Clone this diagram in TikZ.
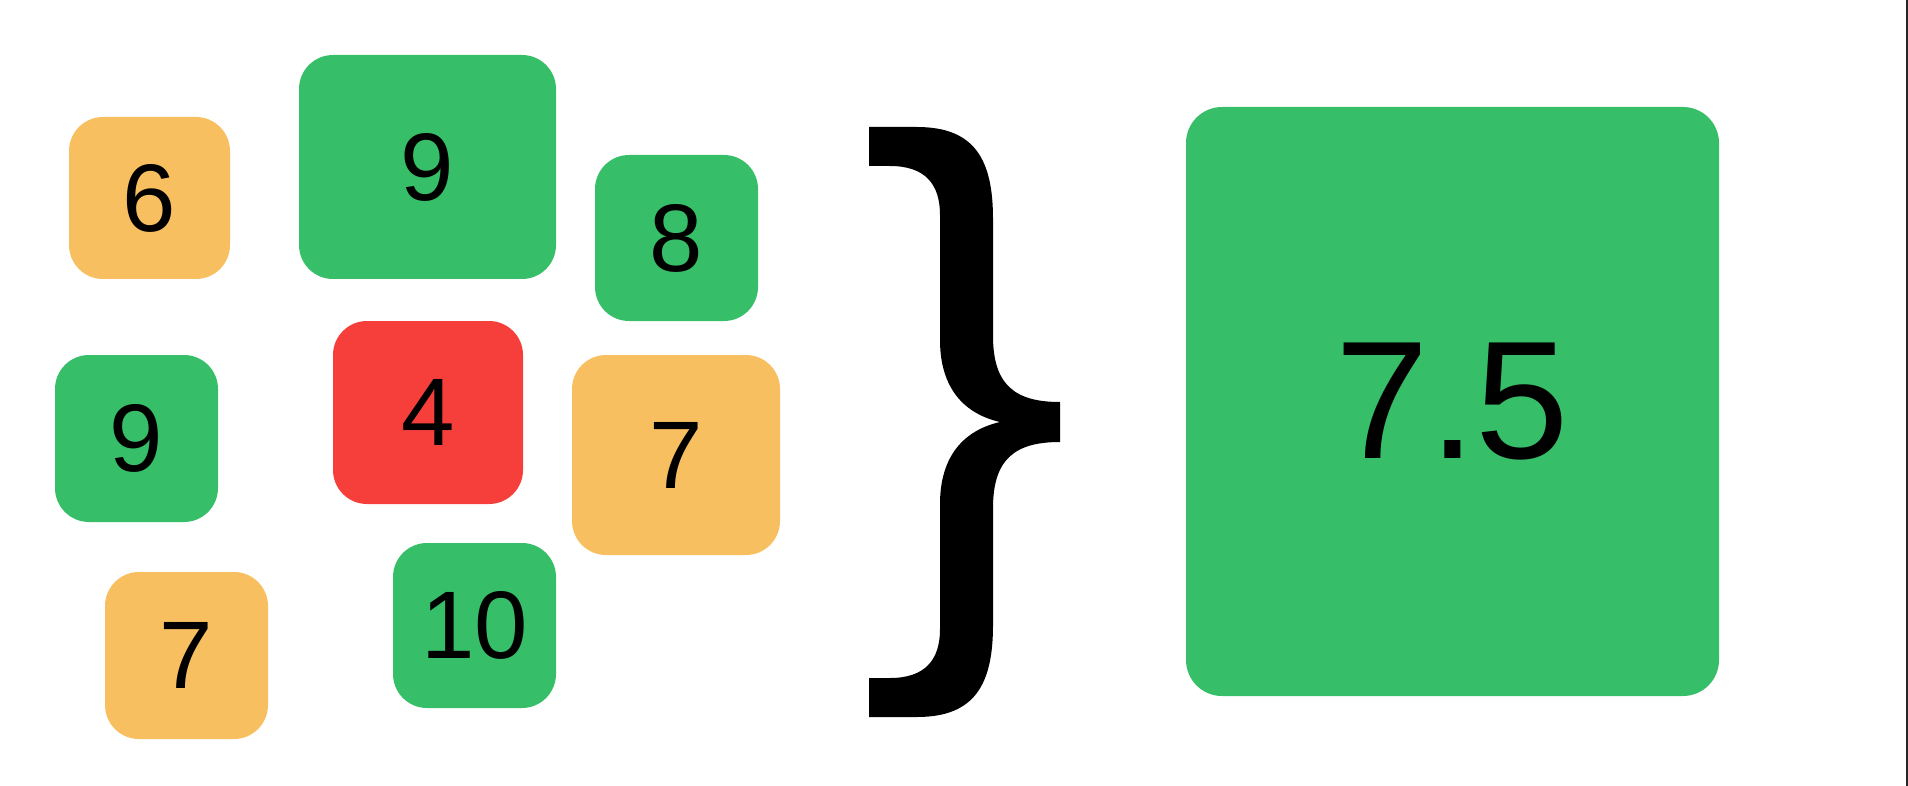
\documentclass[tikz,border=0pt]{standalone}
\usepackage{fontspec}
\setmainfont{Liberation Sans}
\usetikzlibrary{positioning}
\definecolor{goodgreen}{RGB}{55,190,105}
\definecolor{midorange}{RGB}{248,191,96}
\definecolor{badred}{RGB}{246,63,58}

\begin{document}
\begin{tikzpicture}[x=1pt,y=-1pt]
	\tikzset{
	  card/.style={rounded corners=34pt,inner sep=0pt,text=black,
		font=\fontsize{96}{96}\selectfont},
	  good/.style={card,fill=goodgreen},
	  fair/.style={card,fill=midorange},
	  poor/.style={card,fill=badred}
	}
	\useasboundingbox (0,0) rectangle (1908,786);
	%SCORES
	\node[fair,minimum width=161pt,minimum height=162pt] (six) at (149.5,198) {6};
	\node[good,minimum width=257pt,minimum height=224pt] (nineA) at (427.5,167) {9};
	\node[good,minimum width=163pt,minimum height=166pt] (eight) at (676.5,238) {8};
	\node[good,minimum width=163pt,minimum height=167pt] (nineB) at (136.5,438.5) {9};
	\node[poor,minimum width=190pt,minimum height=183pt] (four) at (428,412.5) {4};
	\node[fair,minimum width=208pt,minimum height=200pt] (sevenA) at (676,455) {7};
	\node[fair,minimum width=163pt,minimum height=167pt] (sevenB) at (186.5,655.5) {7};
	\node[good,minimum width=163pt,minimum height=165pt] (ten) at (474.5,625.5) {10};
	%BRACE
	\fill[black] (869,127) -- (917,127) .. controls (975,127) and (993,160) .. (993,219)
	  -- (993,336) .. controls (993,385) and (1015,402) .. (1060,402)
	  -- (1060,442) .. controls (1015,442) and (993,459) .. (993,508)
	  -- (993,625) .. controls (993,684) and (975,717) .. (917,717)
	  -- (869,717) -- (869,678) -- (890,678) .. controls (925,678) and (940,660) .. (940,629)
	  -- (940,504) .. controls (940,455) and (965,430) .. (1000,422)
	  .. controls (965,414) and (940,389) .. (940,340)
	  -- (940,215) .. controls (940,184) and (925,166) .. (890,166)
	  -- (869,166) -- cycle;
	%MEAN
	\node[good,rounded corners=36pt,minimum width=533pt,minimum height=589pt,
	  font=\fontsize{168}{168}\selectfont] (mean) at (1452.5,401.5) {7.5};
	%EDGE
	\draw[line width=2pt,black!85] (1907,0) -- (1907,786);
\end{tikzpicture}
\end{document}
